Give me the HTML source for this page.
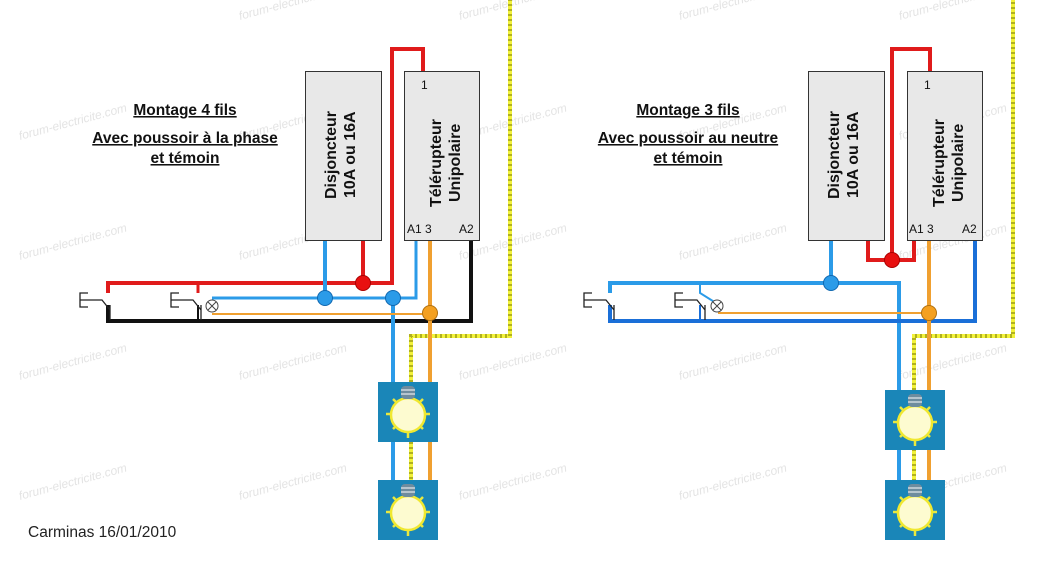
<!DOCTYPE html>
<html><head><meta charset="utf-8"><style>
body{margin:0;background:#fff}
svg{display:block}
text{font-family:"Liberation Sans",sans-serif}
</style></head><body>
<svg width="1058" height="567" viewBox="0 0 1058 567" xmlns="http://www.w3.org/2000/svg">
<defs>
<g id="lamp">
<rect x="0" y="0" width="60" height="60" fill="#1a86b8"/>
<g stroke="#e8e840" stroke-width="2.5">
<line x1="8" y1="32" x2="14" y2="32"/><line x1="46" y1="32" x2="52" y2="32"/>
<line x1="30" y1="50" x2="30" y2="56"/>
<line x1="15" y1="17" x2="19" y2="21"/><line x1="45" y1="17" x2="41" y2="21"/>
<line x1="15" y1="47" x2="19" y2="43"/><line x1="45" y1="47" x2="41" y2="43"/>
</g>
<circle cx="30" cy="33" r="17" fill="#fdfbd0" stroke="#f0e830" stroke-width="2.5"/>
<rect x="23" y="4" width="14" height="13" rx="4" fill="#6f8c9e"/>
<line x1="23" y1="8" x2="37" y2="8" stroke="#cfd8de" stroke-width="1.5"/>
<line x1="23" y1="12" x2="37" y2="12" stroke="#cfd8de" stroke-width="1.5"/>
</g>
<g id="sw">
<path d="M8 -7 H0 V7 H8 M0 0 H22 L30 10 M30 5 V20" fill="none" stroke="#222" stroke-width="1.3"/>
</g>
</defs>

<g fill="#e4e4e4" font-size="12" font-style="italic">
<text x="20" y="140" transform="rotate(-15 20 140)">forum-electricite.com</text>
<text x="240" y="140" transform="rotate(-15 240 140)">forum-electricite.com</text>
<text x="460" y="140" transform="rotate(-15 460 140)">forum-electricite.com</text>
<text x="680" y="140" transform="rotate(-15 680 140)">forum-electricite.com</text>
<text x="900" y="140" transform="rotate(-15 900 140)">forum-electricite.com</text>
<text x="20" y="260" transform="rotate(-15 20 260)">forum-electricite.com</text>
<text x="240" y="260" transform="rotate(-15 240 260)">forum-electricite.com</text>
<text x="460" y="260" transform="rotate(-15 460 260)">forum-electricite.com</text>
<text x="680" y="260" transform="rotate(-15 680 260)">forum-electricite.com</text>
<text x="900" y="260" transform="rotate(-15 900 260)">forum-electricite.com</text>
<text x="20" y="380" transform="rotate(-15 20 380)">forum-electricite.com</text>
<text x="240" y="380" transform="rotate(-15 240 380)">forum-electricite.com</text>
<text x="460" y="380" transform="rotate(-15 460 380)">forum-electricite.com</text>
<text x="680" y="380" transform="rotate(-15 680 380)">forum-electricite.com</text>
<text x="900" y="380" transform="rotate(-15 900 380)">forum-electricite.com</text>
<text x="20" y="500" transform="rotate(-15 20 500)">forum-electricite.com</text>
<text x="240" y="500" transform="rotate(-15 240 500)">forum-electricite.com</text>
<text x="460" y="500" transform="rotate(-15 460 500)">forum-electricite.com</text>
<text x="680" y="500" transform="rotate(-15 680 500)">forum-electricite.com</text>
<text x="900" y="500" transform="rotate(-15 900 500)">forum-electricite.com</text>
<text x="240" y="20" transform="rotate(-15 240 20)">forum-electricite.com</text>
<text x="460" y="20" transform="rotate(-15 460 20)">forum-electricite.com</text>
<text x="680" y="20" transform="rotate(-15 680 20)">forum-electricite.com</text>
<text x="900" y="20" transform="rotate(-15 900 20)">forum-electricite.com</text>
</g>

<!-- LEFT -->
<g font-weight="bold" font-size="15.5" text-anchor="middle" text-decoration="underline" fill="#111">
<text x="185" y="115">Montage 4 fils</text>
<text x="185" y="143">Avec poussoir à la phase</text>
<text x="185" y="163">et témoin</text>
</g>
<path d="M411 382 V336 H510 V0" fill="none" stroke="#f2f23a" stroke-width="4"/>
<path d="M411 382 V336 H510 V0" fill="none" stroke="#b0b020" stroke-width="4" stroke-dasharray="2 3"/>
<path d="M411 442 V480" fill="none" stroke="#f2f23a" stroke-width="4"/>
<path d="M411 442 V480" fill="none" stroke="#b0b020" stroke-width="4" stroke-dasharray="2 3"/>
<path d="M108 293 V283 H392 V49 H423 V71" fill="none" stroke="#e01b1b" stroke-width="4"/>
<path d="M198 283 V293" stroke="#e01b1b" stroke-width="3"/>
<path d="M363 241 V283" stroke="#e01b1b" stroke-width="4"/>
<path d="M108 305 V321 H471 V241" fill="none" stroke="#111" stroke-width="4"/>
<path d="M198 305 V321" stroke="#111" stroke-width="2"/>
<path d="M212 298 H416 V241" fill="none" stroke="#2b9be8" stroke-width="3"/>
<path d="M325 241 V298" stroke="#2b9be8" stroke-width="4"/>
<path d="M393 298 V382 M393 442 V480" stroke="#2b9be8" stroke-width="4"/>
<path d="M212 314 H430" stroke="#f0a030" stroke-width="2"/>
<path d="M430 241 V382 M430 442 V480" stroke="#f0a030" stroke-width="4"/>
<circle cx="363" cy="283" r="7.5" fill="#e81010" stroke="#a00" stroke-width="1"/>
<circle cx="325" cy="298" r="7.5" fill="#2b9be8" stroke="#1068b0" stroke-width="1"/>
<circle cx="393" cy="298" r="7.5" fill="#2b9be8" stroke="#1068b0" stroke-width="1"/>
<circle cx="430" cy="313" r="7.5" fill="#f4a020" stroke="#b07010" stroke-width="1"/>
<use href="#sw" x="80" y="300"/>
<use href="#sw" x="171" y="300"/>
<circle cx="212" cy="306" r="6" fill="#fff" stroke="#444" stroke-width="1"/>
<path d="M208 302 L216 310 M216 302 L208 310" stroke="#444" stroke-width="1"/>
<rect x="305.5" y="71.5" width="76" height="169" fill="#e8e8e8" stroke="#333"/>
<rect x="404.5" y="71.5" width="75" height="169" fill="#e8e8e8" stroke="#333"/>
<g font-size="16" font-weight="bold" fill="#111">
<text transform="translate(336 199) rotate(-90)">Disjoncteur</text>
<text transform="translate(355 198) rotate(-90)">10A ou 16A</text>
<text transform="translate(441 207) rotate(-90)">Télérupteur</text>
<text transform="translate(460 202) rotate(-90)">Unipolaire</text>
</g>
<g font-size="12" fill="#111"><text x="421" y="89">1</text><text x="407" y="233">A1 3</text><text x="459" y="233">A2</text></g>
<use href="#lamp" x="378" y="382"/>
<use href="#lamp" x="378" y="480"/>
<text x="28" y="537" font-size="15.5" fill="#222">Carminas 16/01/2010</text>

<!-- RIGHT -->
<g font-weight="bold" font-size="15.5" text-anchor="middle" text-decoration="underline" fill="#111">
<text x="688" y="115">Montage 3 fils</text>
<text x="688" y="143">Avec poussoir au neutre</text>
<text x="688" y="163">et témoin</text>
</g>
<path d="M914 390 V336 H1013 V0" fill="none" stroke="#f2f23a" stroke-width="4"/>
<path d="M914 390 V336 H1013 V0" fill="none" stroke="#b0b020" stroke-width="4" stroke-dasharray="2 3"/>
<path d="M914 449 V480" fill="none" stroke="#f2f23a" stroke-width="4"/>
<path d="M914 449 V480" fill="none" stroke="#b0b020" stroke-width="4" stroke-dasharray="2 3"/>
<path d="M892 260 V49 H930 V71" fill="none" stroke="#e01b1b" stroke-width="4"/>
<path d="M868 241 V260 H914 V241" fill="none" stroke="#e01b1b" stroke-width="4"/>
<path d="M610 293 V283 H899 V390 M899 449 V480" fill="none" stroke="#2b9be8" stroke-width="4"/>
<path d="M831 241 V283" stroke="#2b9be8" stroke-width="4"/>
<path d="M700 283 V293 L716 303" fill="none" stroke="#2b9be8" stroke-width="2"/>
<path d="M610 305 V321 H975 V241" fill="none" stroke="#1a6fd8" stroke-width="4"/>
<path d="M700 305 V321" stroke="#1a6fd8" stroke-width="2"/>
<path d="M718 313 H929" stroke="#f0a030" stroke-width="2"/>
<path d="M929 241 V390 M929 449 V480" stroke="#f0a030" stroke-width="4"/>
<circle cx="892" cy="260" r="7.5" fill="#e81010" stroke="#a00" stroke-width="1"/>
<circle cx="831" cy="283" r="7.5" fill="#2b9be8" stroke="#1068b0" stroke-width="1"/>
<circle cx="929" cy="313" r="7.5" fill="#f4a020" stroke="#b07010" stroke-width="1"/>
<use href="#sw" x="584" y="300"/>
<use href="#sw" x="675" y="300"/>
<circle cx="717" cy="306" r="6" fill="#fff" stroke="#444" stroke-width="1"/>
<path d="M713 302 L721 310 M721 302 L713 310" stroke="#444" stroke-width="1"/>
<rect x="808.5" y="71.5" width="76" height="169" fill="#e8e8e8" stroke="#333"/>
<rect x="907.5" y="71.5" width="75" height="169" fill="#e8e8e8" stroke="#333"/>
<g font-size="16" font-weight="bold" fill="#111">
<text transform="translate(839 199) rotate(-90)">Disjoncteur</text>
<text transform="translate(858 198) rotate(-90)">10A ou 16A</text>
<text transform="translate(944 207) rotate(-90)">Télérupteur</text>
<text transform="translate(963 202) rotate(-90)">Unipolaire</text>
</g>
<g font-size="12" fill="#111"><text x="924" y="89">1</text><text x="909" y="233">A1 3</text><text x="962" y="233">A2</text></g>
<use href="#lamp" x="885" y="390"/>
<use href="#lamp" x="885" y="480"/>
</svg>
</body></html>
